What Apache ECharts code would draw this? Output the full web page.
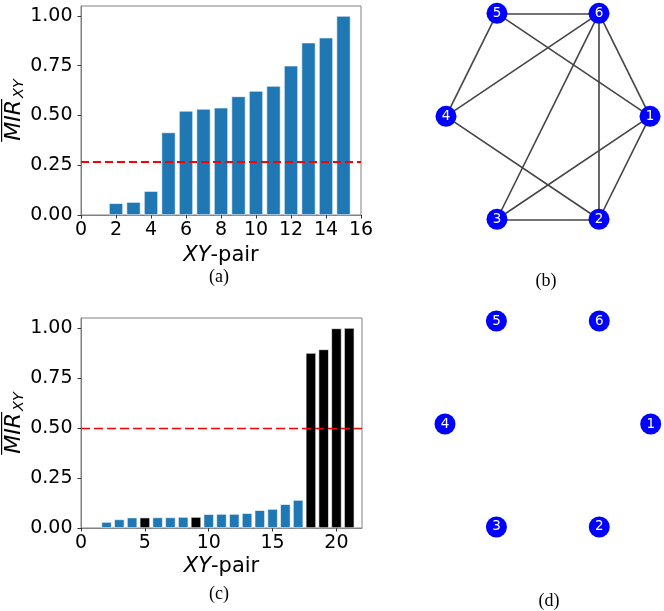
<!DOCTYPE html>
<html>
<head>
<meta charset="utf-8">
<script src="https://cdn.jsdelivr.net/npm/echarts@6.0.0/dist/echarts.min.js"></script>
<style>
  html, body { margin: 0; padding: 0; background: #fff; }
  #chart { width: 664px; height: 611px; }
</style>
</head>
<body>
<div id="chart"></div>
<script>
// (a) MIR per XY-pair, 6 variables -> 15 pairs
const pairsA = [1, 2, 3, 4, 5, 6, 7, 8, 9, 10, 11, 12, 13, 14, 15]
const mirA = [0, 0.059, 0.065, 0.12, 0.415, 0.523, 0.533, 0.539, 0.596, 0.623, 0.648, 0.75, 0.866, 0.891, 1.0]
const thresholdA = 0.27
const xTicksA = [0, 2, 4, 6, 8, 10, 12, 14, 16]

// (c) MIR per XY-pair, 21 pairs, black = highlighted pairs
const pairsC = [1, 2, 3, 4, 5, 6, 7, 8, 9, 10, 11, 12, 13, 14, 15, 16, 17, 18, 19, 20, 21]
const mirC = [0, 0.030, 0.043, 0.052, 0.052, 0.053, 0.053, 0.055, 0.055, 0.069, 0.070,
  0.070, 0.074, 0.089, 0.095, 0.119, 0.140, 0.875, 0.893, 0.998, 1.0]
const blackC = [5, 9, 18, 19, 20, 21]
const thresholdC = 0.5
const xTicksC = [0, 5, 10, 15, 20]

const yTicks = [0, 0.25, 0.5, 0.75, 1.0]

// (b) / (d) graphs on the same 6 nodes
const nodeNames = ['1', '2', '3', '4', '5', '6']
const edgesB = [
  ['5', '6'], ['5', '4'], ['5', '1'], ['6', '4'], ['6', '3'], ['6', '2'],
  ['6', '1'], ['4', '2'], ['3', '2'], ['3', '1'], ['1', '2'],
]
const edgesD = []

const FONT = '"DejaVu Sans", Verdana, sans-serif'
const SERIF = '"Liberation Serif", "Times New Roman", serif'
const BLUE = '#1f77b4'
const SPINE = '#808080'

const chart = echarts.init(document.getElementById('chart'), null, { renderer: 'canvas' })

/** circular layout: node i at angle -2πi/n (1 on the right, going clockwise on screen) */
function circleNodes(names) {
  const n = names.length
  return names.map((name, i) => {
    const a = 2 * Math.PI * i / n
    return { name, value: [Math.cos(a), -Math.sin(a)] }
  })
}

function barXAxis(gridIndex, max, ticks, gap) {
  return {
    type: 'value', gridIndex, min: 0, max,
    axisLine: { show: true, lineStyle: { color: SPINE, width: 1 } },
    axisTick: { show: true, length: 3.5, customValues: ticks, lineStyle: { color: '#333' } },
    axisLabel: { customValues: ticks, margin: 6, fontSize: 19, fontFamily: FONT, color: '#000' },
    splitLine: { show: false },
    name: '{i|XY}-pair', nameLocation: 'middle', nameGap: gap,
    nameTextStyle: {
      fontSize: 21, fontFamily: FONT, color: '#000',
      rich: { i: { fontStyle: 'italic', fontSize: 21, fontFamily: FONT, color: '#000' } },
    },
  }
}

function barYAxis(gridIndex) {
  return {
    type: 'value', gridIndex, min: 0, max: 1.05,
    axisLine: { show: true, lineStyle: { color: SPINE, width: 1 } },
    axisTick: { show: true, length: 3.5, customValues: yTicks, lineStyle: { color: '#333' } },
    axisLabel: {
      customValues: yTicks, margin: 8.5, fontSize: 19, fontFamily: FONT, color: '#000',
      formatter: v => v.toFixed(2),
    },
    splitLine: { show: false },
  }
}

function hiddenAxis(gridIndex, lim) {
  return { type: 'value', gridIndex, min: -lim, max: lim, show: false }
}

function thresholdLine(y, width, dash) {
  return {
    silent: true, symbol: 'none', animation: false,
    label: { show: false },
    lineStyle: { color: '#ff0000', type: dash, width },
    data: [{ yAxis: y }],
  }
}

function barItem(x, v, color) {
  // zero-height bars draw nothing (no white edge stub)
  return { value: [x, v], itemStyle: { color, borderWidth: v > 0 ? 0.6 : 0 } }
}

function graphSeries(axisIndex, edges) {
  return {
    type: 'graph', coordinateSystem: 'cartesian2d',
    xAxisIndex: axisIndex, yAxisIndex: axisIndex,
    symbolSize: 21,
    itemStyle: { color: '#0000ff' },
    label: { show: true, position: 'inside', color: '#fff', fontSize: 13.5, fontFamily: FONT },
    lineStyle: { color: '#444', width: 1.6, opacity: 1 },
    data: circleNodes(nodeNames),
    links: edges.map(([s, t]) => ({ source: s, target: t })),
    animation: false,
  }
}

// rotated y label: overline(MIR) with subscript XY
const measure = document.createElement('canvas').getContext('2d')
function textWidth(txt, font) { measure.font = font; return measure.measureText(txt).width }
function ylabelGroup(cx, cy) {
  const fm = 'italic 22px "DejaVu Sans"'
  const fs = 'italic 14.5px "DejaVu Sans"'
  const wm = textWidth('MIR', fm)
  const ws = textWidth('XY', fs)
  const x0 = -(wm + ws + 2) / 2
  return {
    type: 'group', x: cx, y: cy, rotation: Math.PI / 2,
    children: [
      { type: 'text', x: x0, y: 0, style: { text: 'MIR', font: fm, fill: '#000', align: 'left', verticalAlign: 'middle' } },
      { type: 'text', x: x0 + wm + 2, y: 5.5, style: { text: 'XY', font: fs, fill: '#000', align: 'left', verticalAlign: 'middle' } },
      { type: 'rect', shape: { x: x0 - 1, y: -13, width: wm + 2, height: 1.2 }, style: { fill: '#000' } },
    ],
  }
}

function caption(txt, x, y) {
  return {
    type: 'text', x, y,
    style: { text: txt, font: '18px ' + SERIF, fill: '#000', align: 'center', verticalAlign: 'middle' },
  }
}

const option = {
  backgroundColor: '#fff',
  animation: false,
  grid: [
    { left: 81, top: 6, width: 280, height: 209, show: true, borderColor: SPINE, borderWidth: 1, backgroundColor: 'transparent' },
    { left: 81, top: 318, width: 281, height: 210, show: true, borderColor: SPINE, borderWidth: 1, backgroundColor: 'transparent' },
    { left: 446, top: 9.3, width: 204, height: 214 },
    { left: 445, top: 317, width: 205.7, height: 214 },
  ],
  xAxis: [
    barXAxis(0, 16, xTicksA, 30),
    barXAxis(1, 22, xTicksC, 28),
    hiddenAxis(2, 1),
    hiddenAxis(3, 1),
  ],
  yAxis: [
    barYAxis(0),
    barYAxis(1),
    hiddenAxis(2, 0.9),
    hiddenAxis(3, 0.9),
  ],
  series: [
    {
      type: 'bar', xAxisIndex: 0, yAxisIndex: 0, barWidth: '80%',
      data: pairsA.map((x, i) => barItem(x, mirA[i], BLUE)),
      itemStyle: { borderColor: '#fff' },
      markLine: thresholdLine(thresholdA, 2.2, [8, 4]),
    },
    {
      type: 'bar', xAxisIndex: 1, yAxisIndex: 1, barWidth: '80%',
      data: pairsC.map((x, i) => barItem(x, mirC[i], blackC.includes(x) ? '#000' : BLUE)),
      itemStyle: { borderColor: '#fff' },
      markLine: thresholdLine(thresholdC, 1.4, [9, 4]),
    },
    graphSeries(2, edgesB),
    graphSeries(3, edgesD),
  ],
  graphic: [
    ylabelGroup(14, 110),
    ylabelGroup(14, 423),
    caption('(a)', 219, 277),
    caption('(b)', 546, 281),
    caption('(c)', 219, 594),
    caption('(d)', 549, 601),
  ],
}

chart.setOption(option)
</script>
</body>
</html>
